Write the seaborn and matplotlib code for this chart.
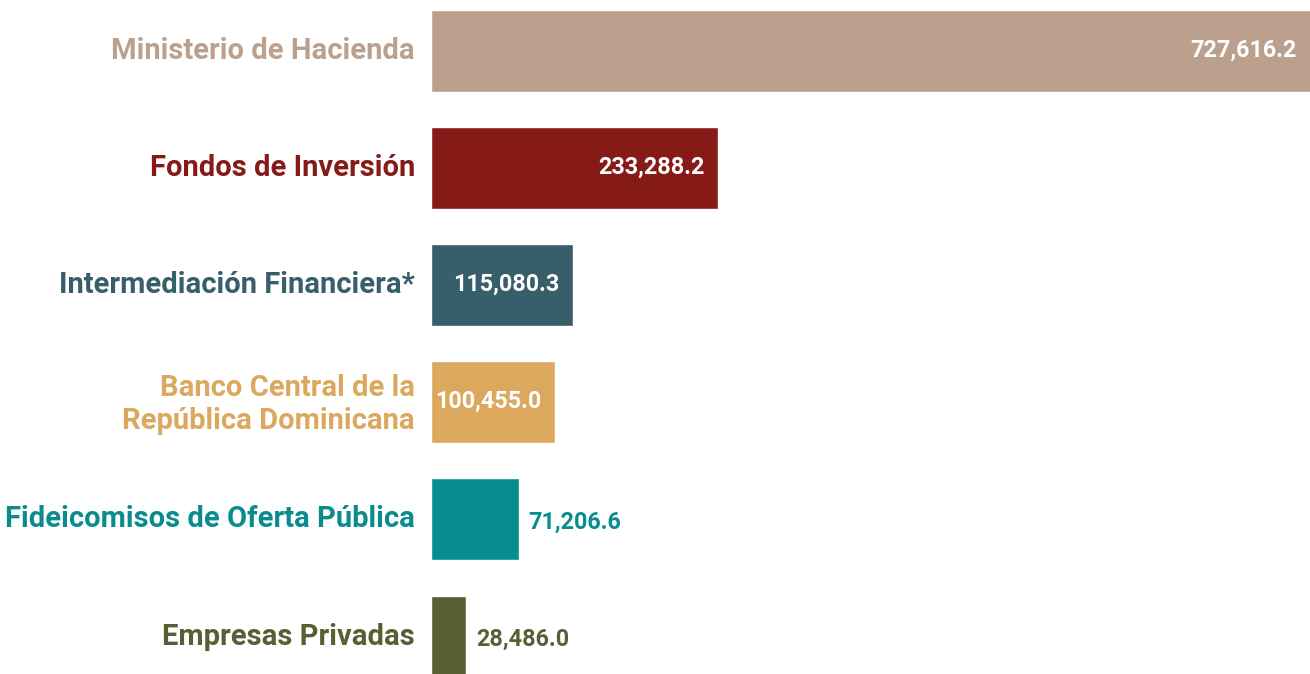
import matplotlib
matplotlib.use("Agg")
import matplotlib.pyplot as plt
import seaborn as sns
import pandas as pd
from matplotlib.transforms import offset_copy, ScaledTranslation

categories = ["Ministerio de Hacienda", "Fondos de Inversión", "Intermediación Financiera*",
              "Banco Central de la\nRepública Dominicana", "Fideicomisos de Oferta Pública",
              "Empresas Privadas"]
values = [727616.2, 233288.2, 115080.3, 100455.0, 71206.6, 28486.0]
value_labels = ["727,616.2", "233,288.2", "115,080.3", "100,455.0", "71,206.6", "28,486.0"]
colors = ["#BBA08E", "#861A16", "#375E6B", "#DCA85E", "#088C8E", "#595E35"]
inside = [True, True, True, True, False, False]

sns.set_theme(style="white")
plt.rcParams['font.family'] = ['Roboto', 'DejaVu Sans']

W, H = 1310, 674
fig = plt.figure(figsize=(W / 100, H / 100), dpi=100)
ax = fig.add_axes([429 / W, 0, 1 - 429 / W, 1])

df = pd.DataFrame({"cat": categories, "val": values})
sns.barplot(data=df, x="val", y="cat", hue="cat", palette=colors, orient="h",
            width=0.70, legend=False, ax=ax, saturation=1)

xmin, xmax = -1626, 714634
ax.set_xlim(xmin, xmax)
ax.set_ylim((674 - 51) / 117.1, -51 / 117.1)
for s in ax.spines.values():
    s.set_visible(False)
ax.set_xticks([])
ax.set_xlabel("")
ax.set_ylabel("")
ax.tick_params(axis="y", length=0, pad=10)
shift = ScaledTranslation(0, 3 / 100, fig.dpi_scale_trans)
for lbl, c in zip(ax.get_yticklabels(), colors):
    lbl.set_color(c)
    lbl.set_fontsize(21)
    lbl.set_fontweight("bold")
    lbl.set_linespacing(1.2)
    lbl.set_transform(lbl.get_transform() + shift)

for i, (v, t, c, ins) in enumerate(zip(values, value_labels, colors, inside)):
    if ins:
        tr = offset_copy(ax.transData, fig=fig, x=-13, y=1, units="dots")
        ax.text(min(v, xmax), i, t, transform=tr, ha="right", va="center", color="white",
                fontsize=16.8, fontweight="bold")
    else:
        tr = offset_copy(ax.transData, fig=fig, x=10, y=-3, units="dots")
        ax.text(v, i, t, transform=tr, ha="left", va="center", color=c,
                fontsize=16.8, fontweight="bold")

fig.savefig("out.png", dpi=100)
